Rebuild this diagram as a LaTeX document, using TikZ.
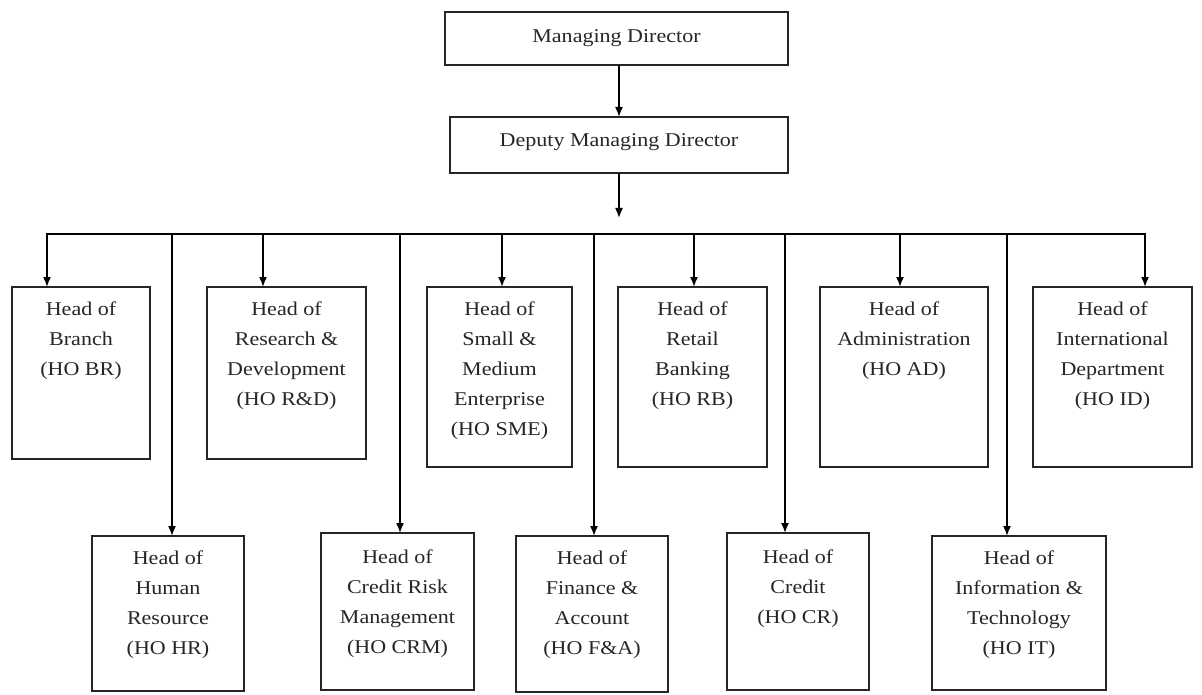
\documentclass[tikz,border=0pt]{standalone}
\usepackage{fontspec}
\setmainfont{Liberation Serif}[FakeStretch=1.13]
\usetikzlibrary{arrows.meta}
\begin{document}
\begin{tikzpicture}[x=1pt,y=-1pt,
  box/.style={draw=black!85, line width=1.4pt, inner sep=0pt, outer sep=0pt},
  lbl/.style={align=center, inner sep=0pt, text=black!85, font=\fontsize{19.5}{30}\selectfont},
  arr/.style={draw=black, line width=1.6pt, -{Latex[length=10pt,width=8pt]}},
  bus/.style={draw=black, line width=1.6pt}]
\useasboundingbox[fill=white] (0,0) rectangle (1202,695);

% top
\node[box, minimum width=343pt, minimum height=53pt] (md) at (616.5,38.5) {};
\node[lbl] (mdT) at (md.center) {Managing Director};
\node[box, minimum width=338pt, minimum height=56pt] (dmd) at (619,145) {};
\node[lbl] (dmdT) at ([yshift=3pt]dmd.center) {Deputy Managing Director};

% first row
\node[box, minimum width=138pt, minimum height=172pt] (br) at (81,373) {};
\node[box, minimum width=159pt, minimum height=172pt] (rd) at (286.5,373) {};
\node[box, minimum width=145pt, minimum height=180pt] (sme) at (499.5,377) {};
\node[box, minimum width=149pt, minimum height=180pt] (rb) at (692.5,377) {};
\node[box, minimum width=168pt, minimum height=180pt] (ad) at (904,377) {};
\node[box, minimum width=159pt, minimum height=180pt] (id) at (1112.5,377) {};

% second row
\node[box, minimum width=152pt, minimum height=155pt] (hr) at (168,613.5) {};
\node[box, minimum width=153pt, minimum height=157pt] (crm) at (397.5,611.5) {};
\node[box, minimum width=152pt, minimum height=156pt] (fa) at (592,614) {};
\node[box, minimum width=142pt, minimum height=157pt] (cr) at (798,611.5) {};
\node[box, minimum width=174pt, minimum height=154pt] (it) at (1019,613) {};

% labels
\node[lbl, anchor=north] (brT) at ([yshift=-15pt]br.north) {Head of\\Branch\\(HO BR)};
\node[lbl, anchor=north] (rdT) at ([yshift=-15pt]rd.north) {Head of\\Research \&\\Development\\(HO R\&D)};
\node[lbl, anchor=north] (smeT) at ([yshift=-15pt]sme.north) {Head of\\Small \&\\Medium\\Enterprise\\(HO SME)};
\node[lbl, anchor=north] (rbT) at ([yshift=-15pt]rb.north) {Head of\\Retail\\Banking\\(HO RB)};
\node[lbl, anchor=north] (adT) at ([yshift=-15pt]ad.north) {Head of\\Administration\\(HO AD)};
\node[lbl, anchor=north] (idT) at ([yshift=-15pt]id.north) {Head of\\International\\Department\\(HO ID)};
\node[lbl, anchor=north] (hrT) at ([yshift=-15pt]hr.north) {Head of\\Human\\Resource\\(HO HR)};
\node[lbl, anchor=north] (crmT) at ([yshift=-17pt]crm.north) {Head of\\Credit Risk\\Management\\(HO CRM)};
\node[lbl, anchor=north] (faT) at ([yshift=-15pt]fa.north) {Head of\\Finance \&\\Account\\(HO F\&A)};
\node[lbl, anchor=north] (crT) at ([yshift=-17pt]cr.north) {Head of\\Credit\\(HO CR)};
\node[lbl, anchor=north] (itT) at ([yshift=-15pt]it.north) {Head of\\Information \&\\Technology\\(HO IT)};

% connectors
\coordinate (tip) at (619,218);
\draw[arr] (dmd.north |- md.south) -- (dmd.north);
\draw[arr] (dmd.south) -- (tip);

\coordinate (j1) at (47,234);
\coordinate (j2) at (172,234);
\coordinate (j3) at (263,234);
\coordinate (j4) at (400,234);
\coordinate (j5) at (502,234);
\coordinate (j6) at (594,234);
\coordinate (j7) at (694,234);
\coordinate (j8) at (785,234);
\coordinate (j9) at (900,234);
\coordinate (j10) at (1007,234);
\coordinate (j11) at (1145,234);
\draw[bus] ([xshift=-0.8pt]j1) -- ([xshift=0.8pt]j11);

\draw[arr] (j1) -- (j1 |- br.north);
\draw[arr] (j3) -- (j3 |- rd.north);
\draw[arr] (j5) -- (j5 |- sme.north);
\draw[arr] (j7) -- (j7 |- rb.north);
\draw[arr] (j9) -- (j9 |- ad.north);
\draw[arr] (j11) -- (j11 |- id.north);

\draw[arr] (j2) -- (j2 |- hr.north);
\draw[arr] (j4) -- (j4 |- crm.north);
\draw[arr] (j6) -- (j6 |- fa.north);
\draw[arr] (j8) -- (j8 |- cr.north);
\draw[arr] (j10) -- (j10 |- it.north);
\end{tikzpicture}
\end{document}
